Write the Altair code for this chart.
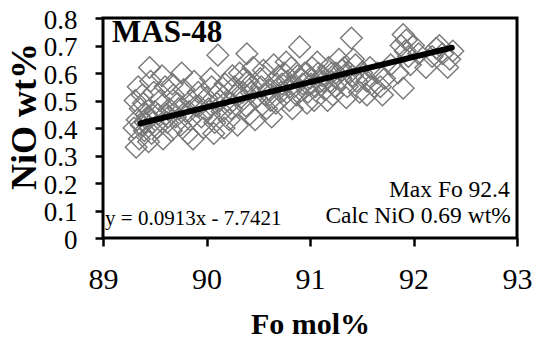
import altair as alt
import pandas as pd

# Olivine analyses (Fo mol%, NiO wt%)
fo = [
    89.32, 89.35, 89.30, 89.33, 89.36, 89.31, 89.38, 89.40, 89.42, 89.37, 89.34, 89.39,
    89.45, 89.46, 89.44, 89.48, 89.47, 89.50, 89.49, 89.43, 89.52, 89.55,
    89.57, 89.60, 89.58, 89.62, 89.64, 89.66, 89.68, 89.61, 89.70, 89.67, 89.72,
    89.75, 89.78, 89.80, 89.82, 89.85, 89.88, 89.84, 89.90, 89.87, 89.92, 89.76,
    89.95, 89.97, 90.00, 90.02, 90.05, 90.08, 90.11, 90.10, 90.04, 90.07, 90.12,
    90.15, 90.18, 90.20, 90.22, 90.25, 90.28, 90.24, 90.30, 90.27, 90.17,
    90.32, 90.35, 90.39, 90.38, 90.40, 90.42, 90.45, 90.48, 90.44, 90.36, 90.47,
    90.52, 90.55, 90.58, 90.60, 90.62, 90.65, 90.68, 90.63, 90.70, 90.57, 90.67,
    90.72, 90.75, 90.78, 90.80, 90.82, 90.85, 90.88, 90.83, 90.90, 90.87, 90.77,
    90.93, 90.95, 90.98, 91.00, 91.02, 91.05, 91.08, 91.04, 91.10, 91.07, 90.97,
    91.12, 91.15, 91.18, 91.20, 91.22, 91.25, 91.28, 91.24, 91.30, 91.17,
    91.33, 91.36, 91.40, 91.38, 91.42, 91.45, 91.48, 91.44, 91.50, 91.35,
    91.55, 91.58, 91.62, 91.65, 91.70, 91.72, 91.78, 91.68, 91.55,
    91.85, 91.88, 91.90, 91.92, 91.90, 91.95, 91.93, 91.97, 92.00,
    92.05, 92.12, 92.18, 92.22, 92.28, 92.33, 92.38, 92.25, 92.35,
    89.41, 89.53, 89.63, 89.73, 89.83, 89.93, 90.03, 90.13, 90.23, 90.33,
    90.43, 90.53, 90.61, 90.73, 90.81, 90.91, 91.01, 91.13, 91.21, 91.31, 91.41,
]
nio = [
    0.33, 0.36, 0.40, 0.43, 0.47, 0.50, 0.52, 0.39, 0.45, 0.41, 0.55, 0.49,
    0.62, 0.57, 0.35, 0.42, 0.38, 0.46, 0.53, 0.44, 0.40, 0.50,
    0.59, 0.55, 0.36, 0.42, 0.47, 0.39, 0.52, 0.45, 0.44, 0.56, 0.49,
    0.41, 0.54, 0.46, 0.38, 0.50, 0.57, 0.43, 0.48, 0.36, 0.53, 0.60,
    0.44, 0.40, 0.51, 0.47, 0.55, 0.42, 0.665, 0.49, 0.58, 0.38, 0.53,
    0.46, 0.56, 0.50, 0.43, 0.59, 0.52, 0.47, 0.41, 0.55, 0.40,
    0.60, 0.53, 0.67, 0.48, 0.57, 0.45, 0.62, 0.51, 0.55, 0.58, 0.43,
    0.58, 0.61, 0.47, 0.54, 0.50, 0.63, 0.56, 0.44, 0.59, 0.52, 0.49,
    0.53, 0.60, 0.57, 0.50, 0.62, 0.55, 0.59, 0.47, 0.695, 0.52, 0.64,
    0.56, 0.60, 0.53, 0.58, 0.62, 0.55, 0.60, 0.50, 0.57, 0.64, 0.49,
    0.59, 0.54, 0.62, 0.57, 0.52, 0.60, 0.65, 0.55, 0.58, 0.50,
    0.62, 0.55, 0.727, 0.60, 0.65, 0.57, 0.53, 0.63, 0.60, 0.51,
    0.57, 0.62, 0.55, 0.60, 0.52, 0.58, 0.63, 0.55, 0.52,
    0.60, 0.70, 0.74, 0.68, 0.545, 0.66, 0.72, 0.63, 0.70,
    0.67, 0.62, 0.66, 0.69, 0.67, 0.62, 0.68, 0.70, 0.65,
    0.42, 0.45, 0.44, 0.47, 0.46, 0.48, 0.45, 0.50, 0.49, 0.51,
    0.53, 0.55, 0.52, 0.56, 0.55, 0.58, 0.56, 0.57, 0.60, 0.61, 0.59,
]

# Linear fit endpoints (y = 0.0913x - 7.7421) as drawn
fit_fo = [89.36, 92.37]
fit_nio = [0.417, 0.692]

# Annotations
ann_text = ["MAS-48", "y = 0.0913x - 7.7421", "Max Fo 92.4", "Calc NiO 0.69 wt%"]
ann_fo = [89.087, 89.02, 92.93, 92.94]
ann_nio = [0.713, 0.047, 0.149, 0.0545]

x_ticks = [89, 90, 91, 92, 93]
y_ticks = [0, 0.1, 0.2, 0.3, 0.4, 0.5, 0.6, 0.7, 0.8]

FONT = "Liberation Serif"

pts = pd.DataFrame({"fo": fo, "nio": nio})
fit = pd.DataFrame({"fo": fit_fo, "nio": fit_nio})

xscale = alt.Scale(domain=[89, 93], nice=False, zero=False)
yscale = alt.Scale(domain=[0, 0.8], nice=False, zero=True)

xaxis = alt.Axis(
    values=x_ticks, format="d", grid=False, domain=False,
    tickSize=8, tickWidth=2.5, tickColor="black",
    labelFont=FONT, labelFontSize=30, labelColor="black",
    labelBaseline="alphabetic", labelPadding=42, labelOverlap=False,
    labelFlush=False,
    title="Fo mol%", titleFont=FONT, titleFontSize=30, titleFontWeight="bold",
    titleColor="black", titleX=207, titleY=95, titleAlign="center",
    titleBaseline="alphabetic",
)
yaxis = alt.Axis(
    values=y_ticks, format=".1~f", grid=False, domain=False,
    tickSize=8, tickWidth=2.5, tickColor="black",
    labelFont=FONT, labelFontSize=27, labelColor="black",
    labelBaseline="middle", labelOffset=2, labelPadding=18, labelOverlap=False,
    labelFlush=False,
    title="NiO wt%", titleFont=FONT, titleFontSize=36, titleFontWeight="bold",
    titleColor="black", titleX=-68, titleY=98, titleAlign="center",
    titleAngle=270, titleBaseline="alphabetic",
)

points = alt.Chart(pts).mark_point(
    shape="diamond", filled=False, size=470, stroke="#787878", strokeWidth=1.4, opacity=1
).encode(
    x=alt.X("fo:Q", scale=xscale, axis=xaxis),
    y=alt.Y("nio:Q", scale=yscale, axis=yaxis),
)

line = alt.Chart(fit).mark_line(color="black", strokeWidth=6, strokeCap="round").encode(
    x=alt.X("fo:Q", scale=xscale, axis=xaxis),
    y=alt.Y("nio:Q", scale=yscale, axis=yaxis),
)

def label(i, align, size, weight):
    df = pd.DataFrame({"t": [ann_text[i]], "fo": [ann_fo[i]], "nio": [ann_nio[i]]})
    return alt.Chart(df).mark_text(
        align=align, baseline="alphabetic", font=FONT, fontSize=size,
        fontWeight=weight, color="black"
    ).encode(
        x=alt.X("fo:Q", scale=xscale, axis=xaxis),
        y=alt.Y("nio:Q", scale=yscale, axis=yaxis),
        text="t:N",
    )

texts = [
    label(0, "left", 31, "bold"),
    label(1, "left", 21, "normal"),
    label(2, "right", 23.5, "normal"),
    label(3, "right", 23.5, "normal"),
]

chart = alt.layer(points, line, *texts).properties(
    width=414, height=220,
    autosize=alt.AutoSizeParams(type="none"),
    padding={"left": 103, "top": 18, "right": 19, "bottom": 101},
    background="white",
).configure_view(stroke="black", strokeWidth=3).configure_axis(labelOverlap=False)

chart.save("out.html", embed_options={"renderer": "svg", "actions": False})
